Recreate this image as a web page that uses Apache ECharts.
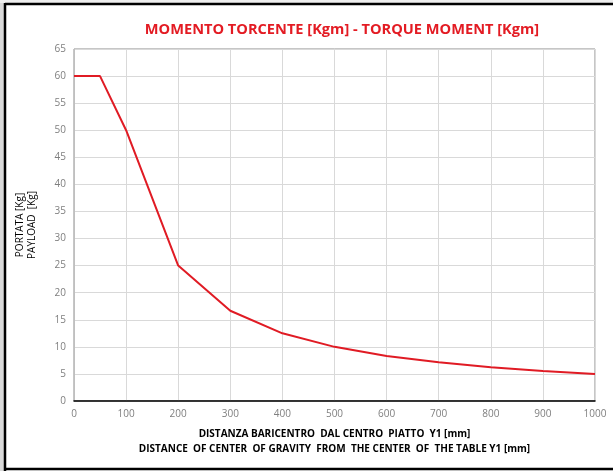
<!DOCTYPE html>
<html><head><meta charset="utf-8">
<script src="https://cdn.jsdelivr.net/npm/echarts@6/dist/echarts.min.js"></script>
<style>html,body{margin:0;padding:0;background:#fff}#c{width:613px;height:471px}</style>
</head><body><div id="c"></div>
<script>
const distances = [0, 50, 100, 200, 300, 400, 500, 600, 700, 800, 900, 1000];
const payload = [60, 60, 50, 25, 16.67, 12.5, 10, 8.33, 7.14, 6.25, 5.56, 5];
const titleText = 'MOMENTO TORCENTE [Kgm] - TORQUE MOMENT [Kgm]';
const yTitle = 'PORTATA [Kg]\nPAYLOAD  [Kg]';
const xTitle = 'DISTANZA BARICENTRO  DAL CENTRO  PIATTO  Y1 [mm]\nDISTANCE  OF CENTER  OF GRAVITY  FROM  THE CENTER  OF  THE TABLE Y1 [mm]';

const chart = echarts.init(document.getElementById('c'), null, {renderer: 'canvas'});
chart.setOption({
  backgroundColor: '#fff',
  animation: false,
  title: {
    text: titleText, left: 337, top: 17, textAlign: 'center',
    textStyle: {color: '#e31b23', fontSize: 14.6, fontWeight: 'bold', fontFamily: 'Open Sans'}
  },
  grid: {left: 74, right: 18, top: 49, bottom: 70, show: true, borderColor: '#8c8c8c', borderWidth: 1},
  xAxis: {
    type: 'value', min: 0, max: 1000, interval: 100,
    axisLine: {show: true, lineStyle: {color: '#000', width: 1.5}},
    axisTick: {show: false},
    axisLabel: {color: '#7f7f7f', fontSize: 10, fontFamily: 'Open Sans', margin: 8, formatter: v => String(v)},
    splitLine: {show: true, lineStyle: {color: '#d9d9d9'}},
    name: xTitle, nameLocation: 'middle', nameGap: 26,
    nameTextStyle: {color: '#000', fontSize: 10, fontWeight: 'bold', fontFamily: 'Open Sans', lineHeight: 15}
  },
  yAxis: {
    type: 'value', min: 0, max: 65, interval: 5,
    axisLine: {show: true, lineStyle: {color: '#bfbfbf'}},
    axisTick: {show: false},
    axisLabel: {color: '#7f7f7f', fontSize: 10, fontFamily: 'Open Sans', margin: 8},
    splitLine: {show: true, lineStyle: {color: '#d9d9d9'}},
    name: yTitle, nameLocation: 'middle', nameGap: 36, nameRotate: 90,
    nameTextStyle: {color: '#000', fontSize: 10, fontFamily: 'Open Sans', lineHeight: 12}
  },
  series: [{
    type: 'line', data: distances.map((d, i) => [d, payload[i]]),
    showSymbol: false, lineStyle: {color: '#e01b24', width: 2}
  }],
  graphic: [
    {type: 'rect', shape: {x: 0, y: 0, width: 4, height: 471}, style: {fill: '#d9d9d9'}, silent: true},
    {type: 'rect', shape: {x: 0, y: 0, width: 613, height: 3}, style: {fill: '#eeeeee'}, silent: true},
    {type: 'line', shape: {x1: 5, y1: 4, x2: 613, y2: 4}, style: {stroke: '#000', lineWidth: 2.5}, silent: true},
    {type: 'line', shape: {x1: 5, y1: 3, x2: 5, y2: 471}, style: {stroke: '#000', lineWidth: 2.5}, silent: true},
    {type: 'line', shape: {x1: 4, y1: 469, x2: 613, y2: 469}, style: {stroke: '#000', lineWidth: 2.5}, silent: true}
  ]
});
</script></body></html>
